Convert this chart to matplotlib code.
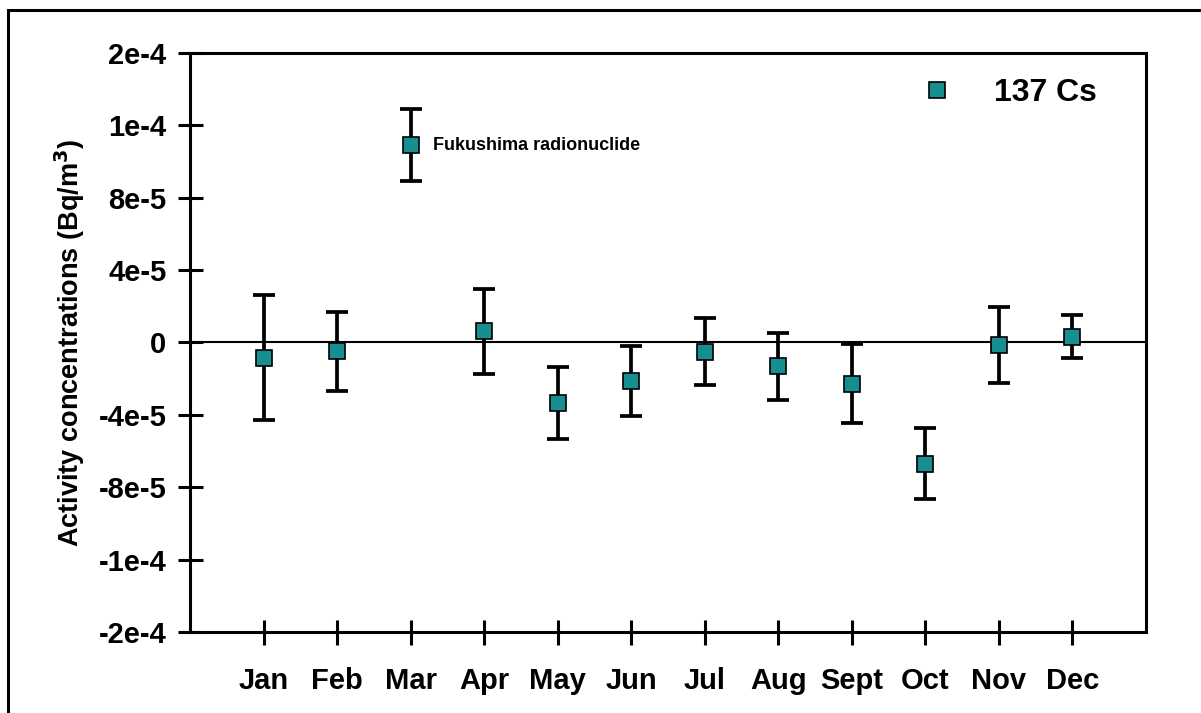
import numpy as np
import matplotlib.pyplot as plt
from matplotlib.patches import Rectangle

plt.rcParams['font.family'] = ['Liberation Sans', 'DejaVu Sans']
plt.rcParams['font.weight'] = 'bold'

months = ['Jan', 'Feb', 'Mar', 'Apr', 'May', 'Jun', 'Jul', 'Aug', 'Sept', 'Oct', 'Nov', 'Dec']
cs137 = [-8.5e-6, -4.8e-6, 1.09e-4, 6.2e-6, -3.33e-5, -2.13e-5, -5.0e-6, -1.32e-5, -2.27e-5, -6.69e-5, -1.3e-6, 3.2e-6]
cs137_err = [3.45e-5, 2.18e-5, 2.0e-5, 2.36e-5, 2.0e-5, 1.93e-5, 1.87e-5, 1.87e-5, 2.17e-5, 1.97e-5, 2.1e-5, 1.2e-5]
yticks = [-1.6e-4, -1.2e-4, -8e-5, -4e-5, 0, 4e-5, 8e-5, 1.2e-4, 1.6e-4]
ytick_labels = ['-2e-4', '-1e-4', '-8e-5', '-4e-5', '0', '4e-5', '8e-5', '1e-4', '2e-4']

teal = '#178f90'

fig = plt.figure(figsize=(12.01, 7.13), dpi=100)
ax = fig.add_axes([0.1582, 0.1136, 0.7960, 0.8121])

x = np.arange(1, len(months) + 1)
ax.axhline(0, color='black', lw=1.5, zorder=1)
ax.errorbar(x, cs137, yerr=cs137_err, fmt='none', ecolor='black',
            elinewidth=2.7, capsize=8, capthick=2.7, zorder=2)
ax.plot(x, cs137, 's', color=teal, mec='black', mew=1.2, ms=11.5,
        zorder=3, label='137 Cs')

ax.annotate('Fukushima radionuclide', (x[2], cs137[2]), xytext=(16, 0),
            textcoords='offset points', va='center', fontsize=13, fontweight='bold')

ax.set_xlim(0, 13)
ax.set_ylim(-1.6e-4, 1.6e-4)
ax.set_xticks(x)
ax.set_xticklabels(months, fontsize=21, fontweight='bold')
ax.set_yticks(yticks)
ax.set_yticklabels(ytick_labels, fontsize=21, fontweight='bold')
ax.tick_params(axis='both', direction='inout', length=18, width=2.2)
ax.tick_params(axis='y', pad=8)
ax.tick_params(axis='x', pad=16)
for s in ax.spines.values():
    s.set_linewidth(2.2)

ax.set_ylabel('Activity concentrations (Bq/m$^\\mathbf{3}$)', fontsize=19.5, fontweight='bold')
ax.yaxis.set_label_coords(-0.108, 0.5)

ax.legend(loc='upper right', frameon=False, handlelength=1.0, handletextpad=1.3,
          bbox_to_anchor=(0.979, 1.006), prop={'size': 23, 'weight': 'bold'})

fig.patches.append(Rectangle((8 / 1201, -0.05), 1.1, 1 - 10 / 713 + 0.05,
                             transform=fig.transFigure, fill=False,
                             edgecolor='black', lw=2.2))

fig.savefig('out.png', dpi=100)
